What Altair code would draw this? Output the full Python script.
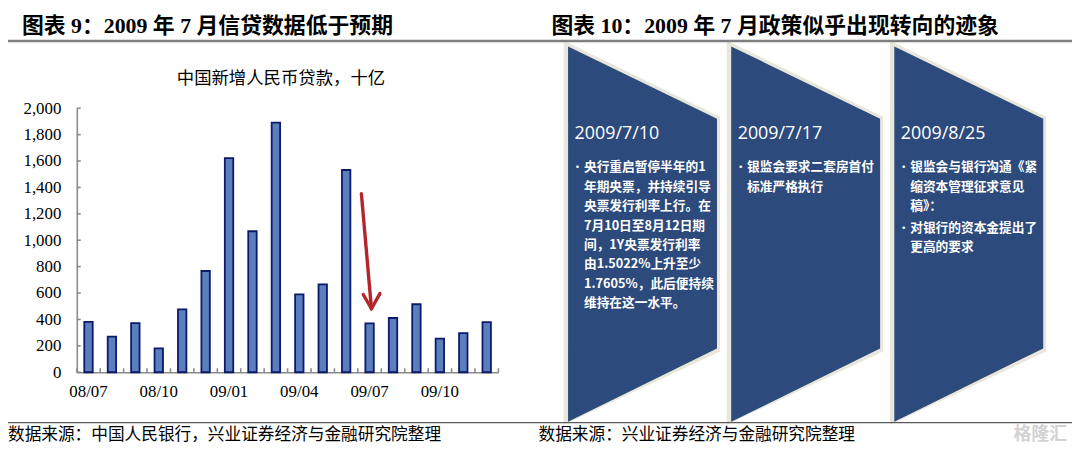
import altair as alt
import pandas as pd

# ---------------- data ----------------
months = ["08/07", "08/08", "08/09", "08/10", "08/11", "08/12",
          "09/01", "09/02", "09/03", "09/04", "09/05", "09/06",
          "09/07", "09/08", "09/09", "09/10", "09/11", "09/12"]
loans = [381, 270, 372, 180, 477, 767,
         1622, 1068, 1891, 590, 666, 1532,
         370, 411, 515, 254, 296, 380]
y_tick_values = list(range(0, 2001, 200))
x_label_months = months[::3]

panel_titles = ["图表 9：2009 年 7 月信贷数据低于预期",
                "图表 10：2009 年 7 月政策似乎出现转向的迹象"]
chart_title = "中国新增人民币贷款，十亿"
sources = ["数据来源：中国人民银行，兴业证券经济与金融研究院整理",
           "数据来源：兴业证券经济与金融研究院整理"]
watermark = "格隆汇"

event_dates = ["2009/7/10", "2009/7/17", "2009/8/25"]
event_bullets = [
    [["央行重启暂停半年的1", "年期央票，并持续引导", "央票发行利率上行。在",
      "7月10日至8月12日期", "间，1Y央票发行利率", "由1.5022%上升至少",
      "1.7605%，此后便持续", "维持在这一水平。"]],
    [["银监会要求二套房首付", "标准严格执行"]],
    [["银监会与银行沟通《紧", "缩资本管理征求意见", "稿》："],
     ["对银行的资本金提出了", "更高的要求"]],
]

# arrow annotation in (month-index position, value) units
arrow_start = (12.15, 1353)
arrow_tip = (12.58, 481)
arrow_wings = [(12.23, 589), (12.94, 596)]

# ---------------- layout ----------------
W, H = 1072, 447
OFF = 8


def px(v):
    return v - OFF


AX_X0 = 77.3
STEP = 23.6
AX_X1 = AX_X0 + len(months) * STEP
Y_ZERO = 373.3
Y_TOP = 107.3
X_RANGE = [px(AX_X0), px(AX_X1)]
Y_RANGE = [px(Y_ZERO), px(Y_TOP)]

SERIF = "Liberation Serif, Noto Sans CJK SC"
CJK = "Noto Sans CJK SC"

# ---------------- bar chart ----------------
bar_df = pd.DataFrame({"month": months, "value": loans})
bars = alt.Chart(bar_df).mark_bar(
    color="#5B7FBD", stroke="#0B1A6B", strokeWidth=1.8
).encode(
    x=alt.X("month:O", sort=months,
            scale=alt.Scale(domain=months, range=X_RANGE,
                            paddingInner=0.64, paddingOuter=0.32),
            axis=alt.Axis(values=x_label_months, labelAngle=0, title=None,
                          ticks=False, domainColor="#8C8C8C", domainWidth=1.6,
                          labelFont=SERIF, labelFontSize=17, labelColor="black",
                          labelPadding=11, offset=px(Y_ZERO) - H)),
    y=alt.Y("value:Q",
            scale=alt.Scale(domain=[0, 2000], range=Y_RANGE, nice=False),
            axis=alt.Axis(values=y_tick_values, format=",d", ticks=False,
                          grid=False, title=None, domainColor="#8C8C8C",
                          domainWidth=1.6, labelFont=SERIF, labelFontSize=17,
                          labelColor="black", labelPadding=16,
                          offset=-px(AX_X0))),
)

# inward ticks + arrow on a numeric (index) scale matching the band scale
tick_len_x = 4 / STEP
tick_len_y = 4 / ((Y_ZERO - Y_TOP) / 2000)
seg = []
for v in y_tick_values:
    seg.append({"x": 0, "y": v, "x2": tick_len_x, "y2": v, "kind": "tick"})
for i in range(len(months) + 1):
    seg.append({"x": i, "y": 0, "x2": i, "y2": tick_len_y, "kind": "tick"})
seg.append({"x": arrow_start[0], "y": arrow_start[1],
            "x2": arrow_tip[0], "y2": arrow_tip[1], "kind": "arrow"})
for wx, wy in arrow_wings:
    seg.append({"x": wx, "y": wy, "x2": arrow_tip[0], "y2": arrow_tip[1],
                "kind": "arrow"})
seg_df = pd.DataFrame(seg)

xq = alt.X("x:Q", scale=alt.Scale(domain=[0, len(months)], range=X_RANGE,
                                  nice=False, zero=False), axis=None)
yq = alt.Y("y:Q", scale=alt.Scale(domain=[0, 2000], range=Y_RANGE, nice=False),
           axis=None)
ticks = alt.Chart(seg_df).transform_filter(alt.datum.kind == "tick").mark_rule(
    color="#8C8C8C", strokeWidth=1.6
).encode(x=xq, y=yq, x2="x2:Q", y2="y2:Q")
arrow = alt.Chart(seg_df).transform_filter(alt.datum.kind == "arrow").mark_rule(
    color="#B3272C", strokeWidth=3.4, strokeCap="round"
).encode(x=xq, y=yq, x2="x2:Q", y2="y2:Q")
quant_layer = alt.layer(ticks, arrow)

# ---------------- chevrons ----------------
CHEV_X0 = 572.3
CHEV_W = 150
CHEV_STEP = 164.35
TOP_L, TOP_R = 45, 118
BOT_L, BOT_R = 423.3, 349.3

fill_rows, border_rows = [], []
for i in range(len(event_dates)):
    x0 = CHEV_X0 + i * CHEV_STEP
    x1 = x0 + CHEV_W
    fill_rows += [{"id": i, "x": px(x0), "yt": px(TOP_L), "yb": px(BOT_L)},
                  {"id": i, "x": px(x1), "yt": px(TOP_R), "yb": px(BOT_R)}]
    border_rows += [{"id": i, "x": px(x0 - 4.5), "yt": px(TOP_L - 6), "yb": px(BOT_L + 3)},
                    {"id": i, "x": px(x1 + 3), "yt": px(TOP_R - 2), "yb": px(BOT_R + 3)}]


def chevron_layer(rows, color):
    return alt.Chart(pd.DataFrame(rows)).mark_area(color=color, opacity=1).encode(
        x=alt.X("x:Q", scale=None, axis=None),
        y=alt.Y("yt:Q", scale=None, axis=None),
        y2="yb:Q",
        detail="id:N",
    )


chev_border = chevron_layer(border_rows, "#E9E6DB")
chev_fill = chevron_layer(fill_rows, "#2C4A7B")


# ---------------- texts ----------------
def text_layer(rows, **kw):
    return alt.Chart(pd.DataFrame(rows)).mark_text(**kw).encode(
        x=alt.X("x:Q", scale=None, axis=None),
        y=alt.Y("y:Q", scale=None, axis=None),
        text="t:N",
    )


date_rows, bullet_rows, line_rows = [], [], []
for i, (d, paras) in enumerate(zip(event_dates, event_bullets)):
    x0 = CHEV_X0 + i * CHEV_STEP
    date_rows.append({"x": px(x0 + 6.5), "y": px(133), "t": d})
    yy = 167
    for para in paras:
        bullet_rows.append({"x": px(x0 + 9.5), "y": px(yy), "t": "•"})
        for line in para:
            line_rows.append({"x": px(x0 + 16), "y": px(yy), "t": line})
            yy += 19.5
        yy += 2

dates = text_layer(date_rows, align="left", baseline="middle", font="Open Sans",
                   fontSize=18, color="white")
bullets = text_layer(bullet_rows, align="center", baseline="middle", font=CJK,
                     fontSize=12, color="white")
lines = text_layer(line_rows, align="left", baseline="middle", font=CJK,
                   fontSize=12.8, fontWeight="bold", color="white")

titles = text_layer([{"x": px(22), "y": px(25), "t": panel_titles[0]},
                     {"x": px(555.5), "y": px(25), "t": panel_titles[1]}],
                    align="left", baseline="middle", font=SERIF, fontSize=22,
                    fontWeight="bold", color="black")
sub_title = text_layer([{"x": px(283), "y": px(78), "t": chart_title}],
                       align="center", baseline="middle", font=SERIF,
                       fontSize=17.5, color="black")
source_txt = text_layer([{"x": px(8), "y": px(437), "t": sources[0]},
                         {"x": px(542.5), "y": px(437), "t": sources[1]}],
                        align="left", baseline="middle", font=SERIF,
                        fontSize=16.8, color="black")
wm = text_layer([{"x": px(1075), "y": px(437), "t": watermark}],
                align="right", baseline="middle", font=CJK, fontSize=18,
                fontWeight="bold", color="#D2D2D2")

rules_df = pd.DataFrame([
    {"x": px(8), "x2": px(1080), "y": px(39.5), "kind": "head"},
    {"x": px(8), "x2": px(1080), "y": px(424), "kind": "foot"},
])
head_rule = alt.Chart(rules_df).transform_filter(alt.datum.kind == "head").mark_rule(
    color="#7F7F7F", strokeWidth=2.5
).encode(x=alt.X("x:Q", scale=None, axis=None), x2="x2:Q",
         y=alt.Y("y:Q", scale=None, axis=None))
foot_rule = alt.Chart(rules_df).transform_filter(alt.datum.kind == "foot").mark_rule(
    color="#595959", strokeWidth=1.3
).encode(x=alt.X("x:Q", scale=None, axis=None), x2="x2:Q",
         y=alt.Y("y:Q", scale=None, axis=None))

chart = alt.layer(
    chev_border, chev_fill, bars, quant_layer,
    dates, bullets, lines, titles, sub_title, source_txt, wm,
    head_rule, foot_rule,
).resolve_scale(x="independent", y="independent").properties(
    width=W, height=H, padding=0,
    autosize=alt.AutoSizeParams(type="none"),
    background="white",
).configure_view(stroke=None)

chart.save("out.html", embed_options={"renderer": "svg", "actions": False})
